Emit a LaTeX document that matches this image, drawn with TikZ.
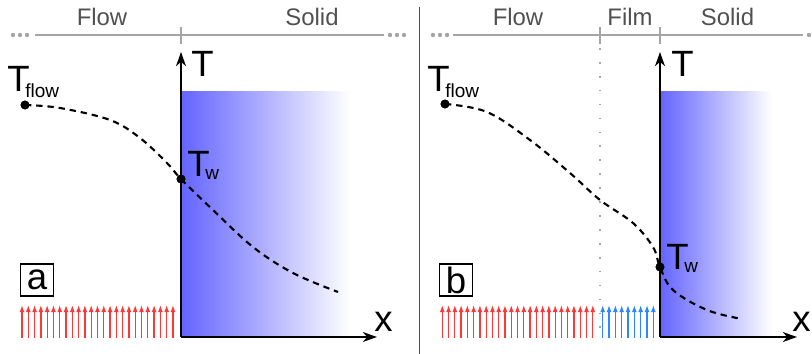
\documentclass[tikz,border=0pt]{standalone}
\usepackage{fontspec}
\setmainfont{Liberation Sans}
\usetikzlibrary{arrows.meta, calc}
\definecolor{sblue}{RGB}{100,100,255}
\definecolor{hred} {RGB}{255, 55, 55}
\definecolor{fblue}{RGB}{ 45,135,255}
\definecolor{lgray}{RGB}{165,165,165}
\definecolor{dgray}{RGB}{ 80, 80, 80}
\newcommand{\bigtxt}{\fontsize{26}{26}\selectfont}
\newcommand{\subtxt}{\fontsize{13.5}{13.5}\selectfont}
% T with a lowered subscript tucked under the bar
\newcommand{\Tsub}[2]{{\bigtxt T}\kern-3pt\raisebox{#2}{\subtxt #1}}
\tikzset{
  % zone label above the strip
  ZL/.style={font=\fontsize{17}{17}\selectfont,text=dgray,inner sep=0pt},
  % grey zone strip and ticks
  Strip/.style={line width=1.2pt,color=lgray},
  EndDot/.style={circle,fill=lgray,inner sep=0pt,minimum size=0.11cm},
  % axes
  Ax/.style={-{Stealth[length=10pt,width=7pt,inset=3pt]},line width=1.4pt},
  % temperature profile
  Prof/.style={dash pattern=on 4.5pt off 3.5pt,line width=1.5pt},
  Dot/.style={circle,fill=black,inner sep=0pt,minimum size=0.22cm},
  BigL/.style={font=\bigtxt,inner sep=0pt},
  % panel tag
  Tag/.style={draw,line width=1pt,font=\bigtxt,minimum width=0.82cm,
              minimum height=0.8cm,inner sep=0pt},
  % heat flux arrows
  HArr/.style={-{Latex[length=5pt,width=3.5pt]},line width=0.9pt,color=hred},
  FArr/.style={-{Latex[length=5pt,width=3.5pt]},line width=0.9pt,color=fblue},
}
\begin{document}
\begin{tikzpicture}[x=0.025cm,y=-0.025cm]
  \useasboundingbox (0,0) rectangle (812,354);
  \draw[dgray,line width=0.8pt] (419.5,7) -- (419.5,354);

  % ---- panel a ----
  \shade[left color=sblue,right color=white] (181,92) rectangle (350,337);
  \draw[Strip] (35,35) -- (384,35);
  \draw[Strip] (181,27) -- (181,44);
  \foreach \x in {13,20,27,390,397,404} \node[EndDot] at (\x,35) {};
  \node[ZL] (flowa)  at (102,17) {Flow};
  \node[ZL] (solida) at (312,17) {Solid};
  \coordinate (oa) at (181,337);
  \coordinate (ta) at (181,52);
  \coordinate (xa) at (377,337);
  \draw[Ax] (oa) -- (ta);
  \draw[Ax] (oa) -- (xa);
  \node[BigL] (tlaba) at (202.5,63.5) {T};
  \node[BigL,anchor=base] (xlaba) at (383.5,332) {x};
  \node[Dot] (tfa) at (25,105) {};
  \node[Dot] (twa) at (181,179) {};
  \draw[Prof] plot[smooth,tension=0.6] coordinates {(tfa.center) (60,108)
        (110,120) (140,138) (167,163) (twa.center) (213,210) (253,247)
        (293,273) (338,292)};
  \node[Dot] at (tfa) {};
  \node[Dot] at (twa) {};
  \node[inner sep=0pt,anchor=base west] (tfla) at (7,92) {\Tsub{flow}{-4pt}};
  \node[inner sep=0pt,anchor=base west] (twla) at (187,177) {\Tsub{w}{-2pt}};
  \node[Tag] (taga) at (37,280) {a};
  \foreach \i in {0,...,24}
    \draw[HArr] ({22+6.29*\i},338) -- ++(0,-33);

  % ---- panel b ----
  \shade[left color=sblue,right color=white] (660,92) rectangle (772,337);
  \draw[Strip] (453,35) -- (803,35);
  \draw[Strip] (600,27) -- (600,44);
  \draw[Strip] (660,27) -- (660,44);
  \foreach \x in {433,440,447,809} \node[EndDot] at (\x,35) {};
  \node[ZL] (flowb)  at (518,17) {Flow};
  \node[ZL] (filmb)  at (630,17) {Film};
  \node[ZL] (solidb) at (727.5,17) {Solid};
  \draw[lgray,line width=1.2pt,dash pattern=on 1.2pt off 8.7pt] (600,48) -- (600,337);
  \coordinate (ob) at (660,337);
  \coordinate (tb) at (660,52);
  \coordinate (xb) at (797,337);
  \draw[Ax] (ob) -- (tb);
  \draw[Ax] (ob) -- (xb);
  \node[BigL] (tlabb) at (682.5,63.5) {T};
  \node[BigL,anchor=base] (xlabb) at (801.5,332) {x};
  \node[Dot] (tfb) at (445,104) {};
  \node[Dot] (twb) at (660,267) {};
  \draw[Prof] plot[smooth,tension=0.6] coordinates {(tfb.center) (487,112)
        (530,140) (570,173) (600,200) (633,223) (653,247) (twb.center)
        (673,290) (707,310) (742,319)};
  \node[Dot] at (tfb) {};
  \node[Dot] at (twb) {};
  \node[inner sep=0pt,anchor=base west] (tflb) at (427,92) {\Tsub{flow}{-4pt}};
  \node[inner sep=0pt,anchor=base west] (twlb) at (666,270) {\Tsub{w}{-2pt}};
  \node[Tag] (tagb) at (456,280) {b};
  \foreach \i in {0,...,24}
    \draw[HArr] ({442.3+6.27*\i},338) -- ++(0,-33);
  \foreach \i in {0,...,8}
    \draw[FArr] ({602.7+6.33*\i},338) -- ++(0,-33);
\end{tikzpicture}
\end{document}
